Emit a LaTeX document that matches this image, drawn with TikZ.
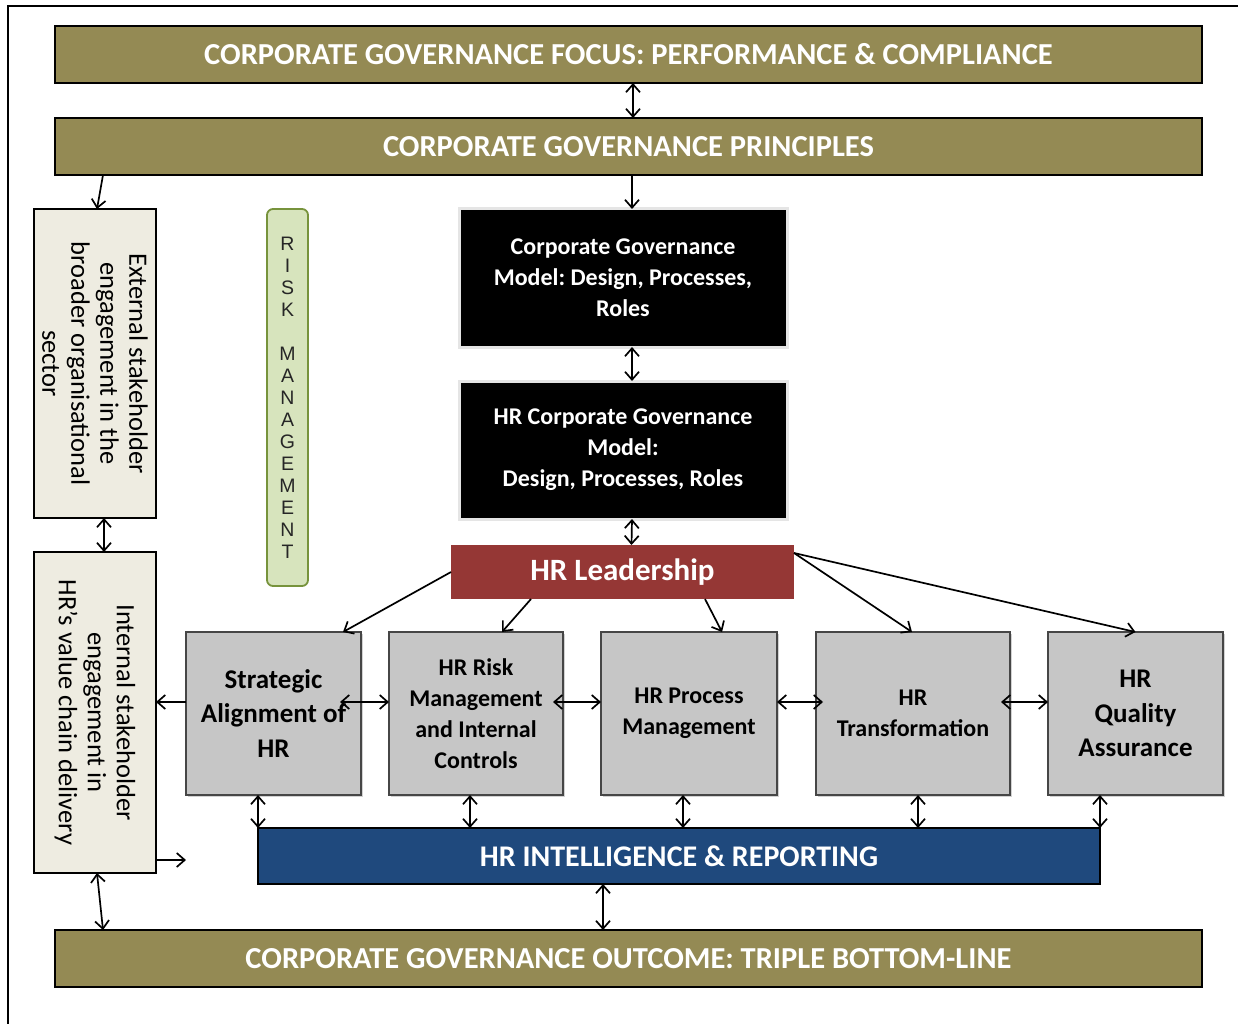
\documentclass[tikz,border=0pt]{standalone}
\usepackage{fontspec}
\setmainfont{Carlito}
\newfontfamily\arialfont{Liberation Sans}
\usetikzlibrary{arrows.meta,shadows}
\definecolor{olivebar}{RGB}{148,138,84}
\definecolor{creambox}{RGB}{238,236,225}
\definecolor{greenfill}{RGB}{215,228,189}
\definecolor{greenedge}{RGB}{119,147,60}
\definecolor{leadred}{RGB}{149,55,53}
\definecolor{intelblue}{RGB}{31,73,125}
\definecolor{graybox}{RGB}{198,198,198}
\definecolor{grayedge}{RGB}{70,70,70}
\frenchspacing
\begin{document}
\begin{tikzpicture}[x=1pt,y=-1pt,
  every node/.style={inner sep=0pt, outer sep=0pt, align=center},
  bar/.style={draw=black, line width=1.8pt, fill=olivebar, text=white,
    font=\bfseries\fontsize{30.5}{36}\selectfont, minimum width=1147pt, minimum height=57pt},
  sidebox/.style={draw=black, line width=1.8pt, fill=creambox, minimum width=122pt},
  sidetext/.style={rotate=-90, font=\fontsize{26.5}{29}\selectfont, text=black},
  riskbox/.style={draw=greenedge, line width=1.8pt, fill=greenfill, rounded corners=6pt,
    minimum width=41pt, minimum height=377pt},
  blkbox/.style={draw=gray!20, line width=3pt, fill=black, text=white,
    font=\bfseries\fontsize{24}{31}\selectfont, minimum width=328pt, minimum height=138pt},
  leadbox/.style={fill=leadred, text=white, font=\bfseries\fontsize{31}{36}\selectfont,
    minimum width=343pt, minimum height=54pt},
  grbox/.style={draw=grayedge, line width=2.5pt, fill=graybox, text=black,
    drop shadow={opacity=0.35, shadow xshift=2pt, shadow yshift=-2pt},
    font=\bfseries\fontsize{24}{31}\selectfont, minimum height=163pt},
  grbig/.style={grbox, font=\bfseries\fontsize{27}{34.5}\selectfont},
  intelbox/.style={draw=black, line width=1.8pt, fill=intelblue, text=white,
    font=\bfseries\fontsize{30}{36}\selectfont, minimum width=842pt, minimum height=56pt},
  arr/.style={line width=1.7pt, -{Straight Barb[length=8pt,width=14pt,line width=1.7pt]}},
  dbl/.style={line width=1.7pt, {Straight Barb[length=8pt,width=14pt,line width=1.7pt]}-{Straight Barb[length=8pt,width=14pt,line width=1.7pt]}}
]
\useasboundingbox (0,0) rectangle (1238,1024);
\fill[white] (0,0) rectangle (1238,1024);
\draw[line width=2pt] (1238,6) -- (8,6) -- (8,1024);

% bars
\node[bar] (focus) at (628.5,54.5) {CORPORATE GOVERNANCE FOCUS: PERFORMANCE \& COMPLIANCE};
\node[bar] (princ) at (628.5,146.5) {CORPORATE GOVERNANCE PRINCIPLES};
\node[bar] (outc) at (628.5,958.5) {CORPORATE GOVERNANCE OUTCOME: TRIPLE BOTTOM-LINE};

% side boxes
\node[sidebox, minimum height=309pt] (ext) at (95,363.5) {};
\node[sidetext] (extt) at (ext.center) {External stakeholder\\engagement in the\\broader organisational\\sector};
\node[sidebox, minimum height=321pt] (int) at (95,712.5) {};
\node[sidetext] (intt) at (int.center) {Internal stakeholder\\engagement in\\HR’s value chain delivery};

% risk management
\node[riskbox] (risk) at (287.5,397.5) {};
\node[font=\arialfont\fontsize{19.5}{22}\selectfont, text=black!85] (riskt) at (risk.center)
  {R\\I\\S\\K\\\mbox{}\\M\\A\\N\\A\\G\\E\\M\\E\\N\\T};

% black boxes
\node[blkbox] (cgm) at (623,278) {Corporate Governance\\Model: Design, Processes,\\Roles};
\node[blkbox] (hrcgm) at (623,450) {HR Corporate Governance\\Model:\\Design, Processes, Roles};

% leadership
\node[leadbox] (hrl) at (622.5,572) {HR Leadership};

% gray boxes
\node[grbig, minimum width=175pt] (sa) at (273.5,713.5) {Strategic\\Alignment of\\HR};
\node[grbox, minimum width=174pt] (rk) at (476,713.5) {HR Risk\\Management\\and Internal\\Controls};
\node[grbox, minimum width=176pt] (pm) at (689,713.5) {HR Process\\Management};
\node[grbox, minimum width=194pt] (tr) at (913,713.5) {HR\\Transformation};
\node[grbig, minimum width=175pt] (qa) at (1135.5,713.5) {HR\\Quality\\Assurance};

% intelligence
\node[intelbox] (hri) at (679,856) {HR INTELLIGENCE \& REPORTING};

\coordinate (intout) at (186,860);

% connectors top
\draw[dbl] ([xshift=4.5pt]focus.south) -- ([xshift=4.5pt]princ.north);
\draw[arr] ([xshift=9pt]cgm.north |- princ.south) -- ([xshift=9pt]cgm.north);
\draw[dbl] ([xshift=9pt]cgm.south) -- ([xshift=9pt]hrcgm.north);
\draw[dbl] ([xshift=9pt]hrcgm.south) -- ([xshift=9pt]hrl.north);
\draw[arr] ([xshift=-525.5pt]princ.south) -- ([xshift=2pt]ext.north);
\draw[dbl] ([xshift=9pt]ext.south) -- ([xshift=9pt]int.north);
\draw[dbl] ([xshift=2pt]int.south) -- ([xshift=-525.5pt]outc.north);
\draw[dbl] ([xshift=-76pt]hri.south) -- ([xshift=-76pt]hri.south |- outc.north);
\draw[arr] (int.east |- intout) -- (intout);

% leadership arrows
\draw[arr] (hrl.west) -- ([xshift=69.5pt]sa.north);
\draw[arr] ([xshift=-91.5pt]hrl.south) -- ([xshift=26pt]rk.north);
\draw[arr] ([xshift=82.5pt]hrl.south) -- ([xshift=33pt]pm.north);
\draw[arr] ([yshift=-8pt]hrl.north east) -- ([xshift=-1pt]tr.north);
\draw[arr] ([yshift=-8pt]hrl.north east) -- (qa.north);

% horizontal arrows
\draw[arr] ([yshift=11.5pt]sa.west) -- ([yshift=11.5pt]sa.west -| int.east);
\draw[dbl] ([xshift=-21pt,yshift=11.5pt]sa.east) -- ([yshift=11.5pt]rk.west);
\draw[dbl] ([xshift=-10pt,yshift=11.5pt]rk.east) -- ([yshift=11.5pt]pm.west);
\draw[dbl] ([yshift=11.5pt]pm.east) -- ([xshift=7pt,yshift=11.5pt]tr.west);
\draw[dbl] ([xshift=-9pt,yshift=11.5pt]tr.east) -- ([yshift=11.5pt]qa.west);

% vertical arrows to intelligence
\draw[dbl] ([xshift=-15.5pt]sa.south) -- ([xshift=-15.5pt]sa.south |- hri.north);
\draw[dbl] ([xshift=-6pt]rk.south) -- ([xshift=-6pt]rk.south |- hri.north);
\draw[dbl] ([xshift=-6pt]pm.south) -- ([xshift=-6pt]pm.south |- hri.north);
\draw[dbl] ([xshift=5pt]tr.south) -- ([xshift=5pt]tr.south |- hri.north);
\draw[dbl] ([xshift=-35.5pt]qa.south) -- ([xshift=-35.5pt]qa.south |- hri.north);
\end{tikzpicture}
\end{document}
